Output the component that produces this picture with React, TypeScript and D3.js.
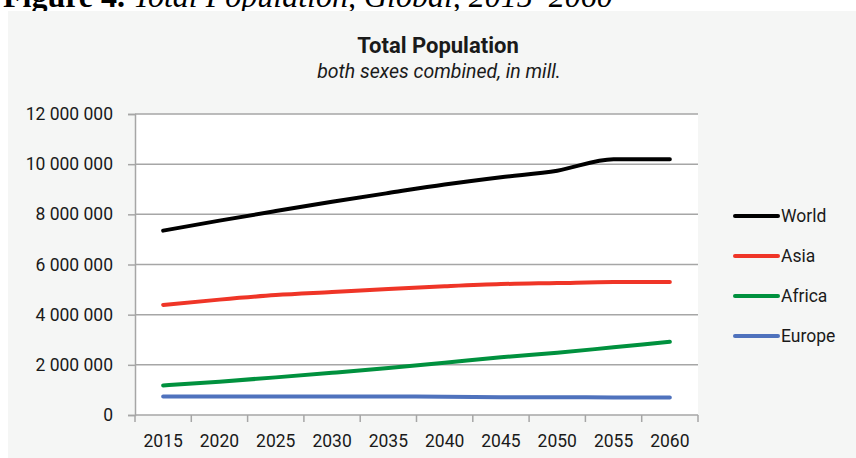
import React, { useRef, useEffect } from "react";
import * as d3 from "d3";

const years = ["2015", "2020", "2025", "2030", "2035", "2040", "2045", "2050", "2055", "2060"];
const world = [7350000, 7750000, 8130000, 8500000, 8850000, 9190000, 9480000, 9740000, 10200000, 10200000];
const asia = [4390000, 4600000, 4780000, 4900000, 5020000, 5130000, 5220000, 5260000, 5300000, 5300000];
const africa = [1180000, 1330000, 1500000, 1680000, 1870000, 2080000, 2300000, 2480000, 2700000, 2920000];
const europe = [738000, 740000, 739000, 737000, 735000, 731000, 712000, 707000, 702000, 698000];
const yTicks = [0, 2000000, 4000000, 6000000, 8000000, 10000000, 12000000];

const series = [
  { name: "World", values: world, color: "#000000" },
  { name: "Asia", values: asia, color: "#ef3527" },
  { name: "Africa", values: africa, color: "#00913e" },
  { name: "Europe", values: europe, color: "#4f72bd" },
];

const W = 856;
const H = 458;
const plot = { left: 135, right: 698, top: 114, bottom: 415 };
const font = "Roboto, 'Noto Sans', sans-serif";

const App: React.FC = () => {
  const svgRef = useRef<SVGSVGElement | null>(null);

  useEffect(() => {
    if (!svgRef.current) return;
    const svg = d3.select(svgRef.current);
    svg.selectAll("*").remove();

    // figure caption, cut off at the top edge
    const cap = svg
      .append("text")
      .attr("x", 3)
      .attr("y", 7)
      .attr("font-family", "'Liberation Serif', 'Times New Roman', serif")
      .attr("font-size", 32)
      .attr("fill", "#000");
    cap.append("tspan").attr("font-weight", "bold").text("Figure 4. ");
    cap.append("tspan").attr("font-style", "italic").text("Total Population, Global, 2015–2060");

    // chart background
    svg.append("rect").attr("x", 8).attr("y", 11).attr("width", W - 8).attr("height", H - 11).attr("fill", "#f5f6f5");
    svg
      .append("rect")
      .attr("x", plot.left)
      .attr("y", plot.top)
      .attr("width", plot.right - plot.left)
      .attr("height", plot.bottom - plot.top)
      .attr("fill", "#ffffff");

    const x = d3.scaleBand<string>().domain(years).range([plot.left, plot.right]);
    const y = d3.scaleLinear().domain([0, 12000000]).range([plot.bottom, plot.top]);

    // title
    svg
      .append("text")
      .attr("x", 438)
      .attr("y", 53)
      .attr("text-anchor", "middle")
      .style("font-family", font)
      .style("font-weight", "bold")
      .style("font-size", "22px")
      .attr("fill", "#1a1a1a")
      .text("Total Population");
    svg
      .append("text")
      .attr("x", 439)
      .attr("y", 78)
      .attr("text-anchor", "middle")
      .style("font-family", font)
      .style("font-style", "italic")
      .style("font-size", "19.5px")
      .attr("fill", "#1a1a1a")
      .text("both sexes combined, in mill.");

    // gridlines
    svg
      .append("g")
      .selectAll("line")
      .data(yTicks)
      .enter()
      .append("line")
      .attr("x1", plot.left)
      .attr("x2", plot.right)
      .attr("y1", (d) => y(d))
      .attr("y2", (d) => y(d))
      .attr("stroke", "#a6a6a6")
      .attr("stroke-width", 1.5);

    // y axis
    const fmt = (v: number) => d3.format(",")(v).replace(/,/g, " ");
    const yAxis = svg
      .append("g")
      .attr("transform", `translate(${plot.left},0)`)
      .call(
        d3
          .axisLeft(y)
          .tickValues(yTicks)
          .tickSize(7)
          .tickPadding(15)
          .tickFormat((d) => fmt(Number(d)))
      );
    yAxis.attr("font-size", null).attr("font-family", null);
    yAxis.select(".domain").attr("stroke", "#a6a6a6").attr("stroke-width", 1.5);
    yAxis.selectAll(".tick line").attr("stroke", "#a6a6a6").attr("stroke-width", 1.5);
    yAxis
      .selectAll(".tick text")
      .style("font-family", font)
      .style("font-size", "17.5px")
      .attr("fill", "#1a1a1a");

    // x axis: ticks at band edges
    const edges = years.map((yr) => x(yr) as number).concat([plot.right]);
    const xAxis = svg.append("g");
    xAxis
      .selectAll("line")
      .data(edges)
      .enter()
      .append("line")
      .attr("x1", (d) => d)
      .attr("x2", (d) => d)
      .attr("y1", plot.bottom)
      .attr("y2", plot.bottom + 7)
      .attr("stroke", "#a6a6a6")
      .attr("stroke-width", 1.5);
    xAxis
      .selectAll("text")
      .data(years)
      .enter()
      .append("text")
      .attr("x", (d) => (x(d) as number) + x.bandwidth() / 2)
      .attr("y", 447)
      .attr("text-anchor", "middle")
      .style("font-family", font)
      .style("font-size", "17.5px")
      .attr("fill", "#1a1a1a")
      .text((d) => d);

    // lines
    const line = d3
      .line<number>()
      .x((_, i) => (x(years[i]) as number) + x.bandwidth() / 2)
      .y((d) => y(d))
      .curve(d3.curveMonotoneX);

    series
      .slice()
      .reverse()
      .forEach((s) => {
        svg
          .append("path")
          .datum(s.values)
          .attr("fill", "none")
          .attr("stroke", s.color)
          .attr("stroke-width", 4)
          .attr("stroke-linecap", "round")
          .attr("stroke-linejoin", "round")
          .attr("d", line);
      });

    // legend
    const legend = svg
      .append("g")
      .selectAll("g")
      .data(series)
      .enter()
      .append("g")
      .attr("transform", (_, i) => `translate(735,${216 + i * 40})`);
    legend
      .append("line")
      .attr("x1", 0)
      .attr("x2", 43)
      .attr("stroke", (d) => d.color)
      .attr("stroke-width", 4)
      .attr("stroke-linecap", "round");
    legend
      .append("text")
      .attr("x", 46)
      .attr("y", 6)
      .style("font-family", font)
      .style("font-size", "17.5px")
      .attr("fill", "#1a1a1a")
      .text((d) => d.name);
  }, []);

  return (
    <div style={{ position: "absolute", left: 0, top: 0 }}>
      <svg ref={svgRef} width={W} height={H} style={{ display: "block" }} />
    </div>
  );
};

export default App;
